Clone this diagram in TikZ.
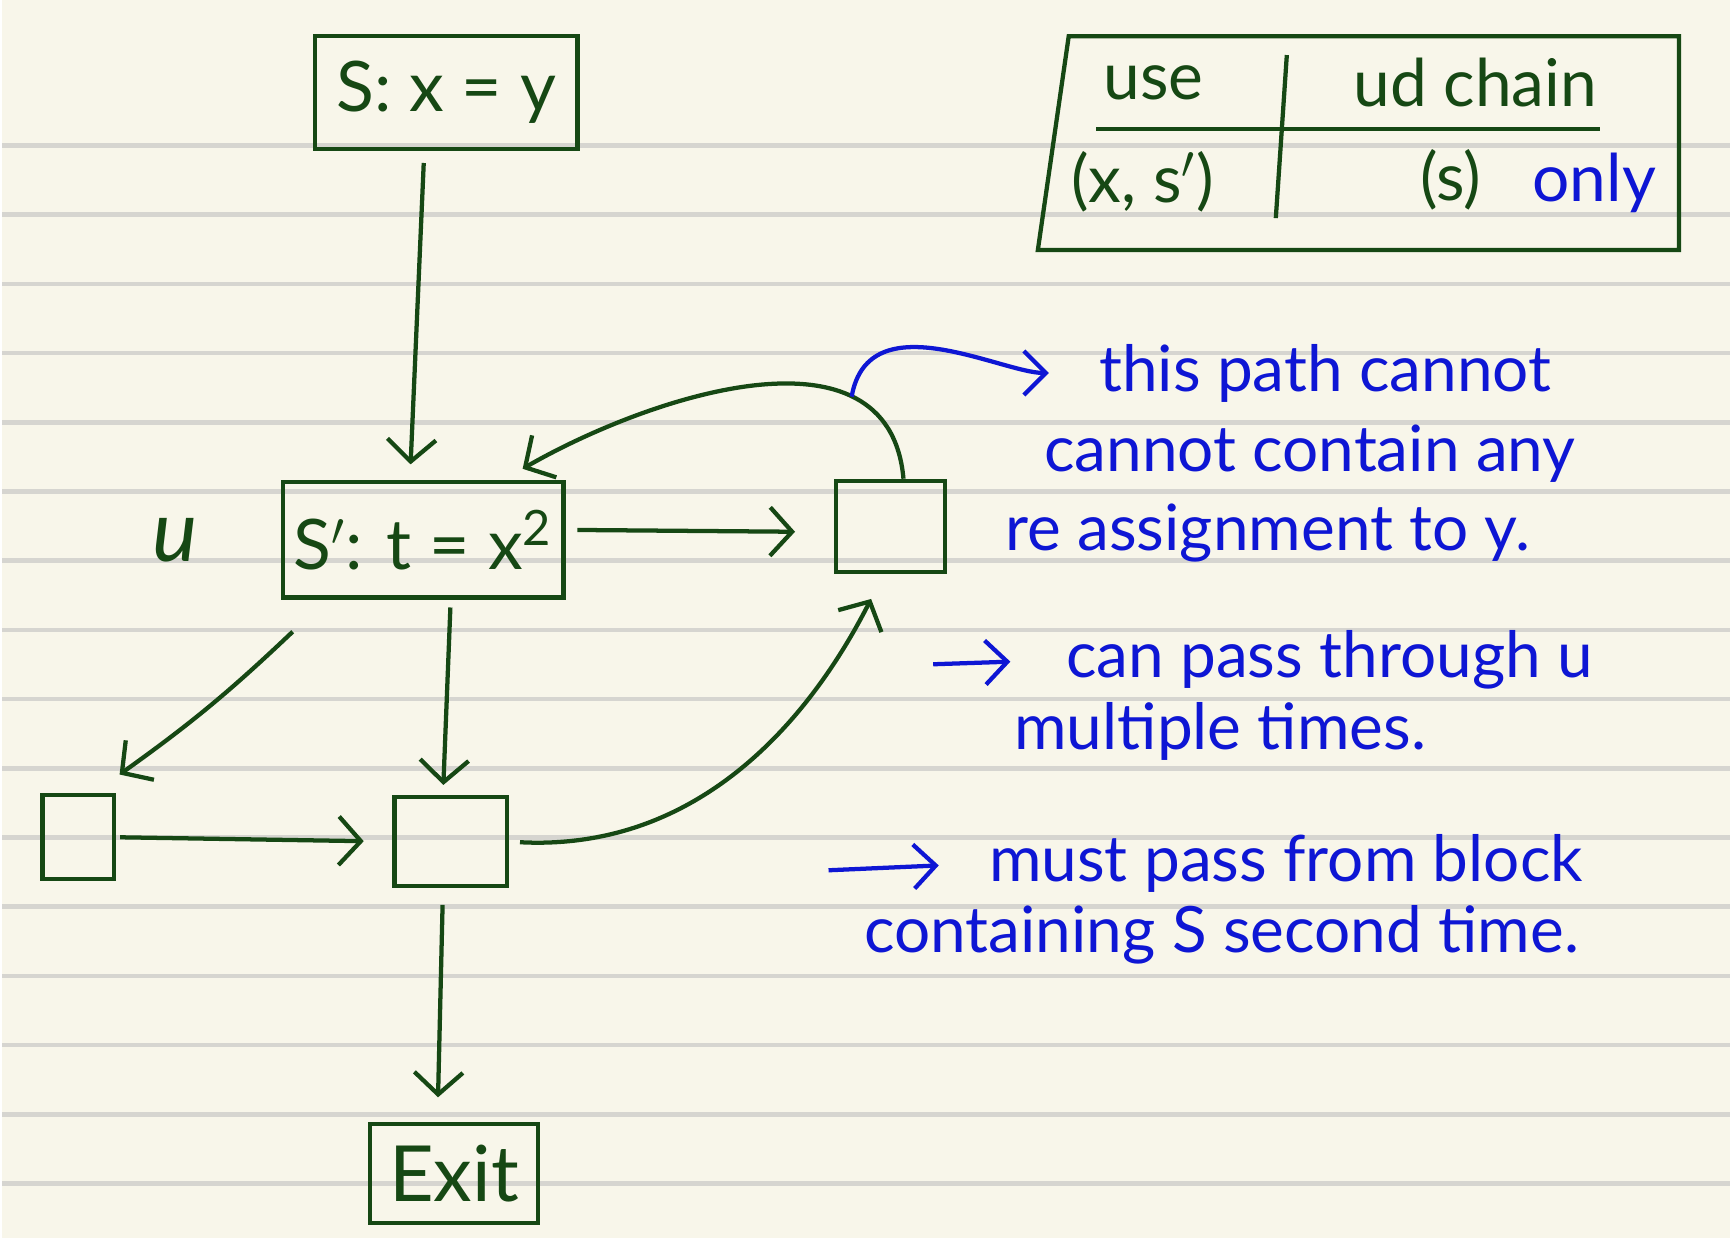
\documentclass[tikz,border=0pt]{standalone}
\usepackage{fontspec}
\setmainfont{Lato}
\usetikzlibrary{positioning, arrows.meta}
\definecolor{PaperCream}{RGB}{248,246,234}
\definecolor{RuleGrey}{RGB}{214,213,208}
\definecolor{InkGreen}{RGB}{22,72,20}
\definecolor{InkBlue}{RGB}{14,22,212}
\tikzset{
  block/.style={draw=InkGreen, line width=1.1pt, inner sep=2pt, text=InkGreen,
    font=\fontsize{18}{22}\selectfont},
  cell/.style={text=InkGreen, inner sep=1pt, font=\fontsize{17}{20}\selectfont},
  note/.style={text=InkBlue, anchor=base west, inner sep=0pt, font=\fontsize{16.5}{20}\selectfont},
  frame/.style={draw=InkGreen, line width=1.1pt},
  flow/.style={-{Straight Barb[length=2mm, width=4.4mm]}, draw=InkGreen, line width=1.1pt},
  notearrow/.style={-{Straight Barb[length=2mm, width=4mm]}, draw=InkBlue, line width=1.1pt},
  ruling/.style={draw=RuleGrey, line width=1.2pt},
}

\begin{document}
\begin{tikzpicture}
  \fill[PaperCream] (0,0) rectangle (15.68,-11.24);
  \foreach \k in {0,...,15}
    \draw[ruling] (0,{-1.322-0.628*\k}) -- (15.68,{-1.322-0.628*\k});
  \useasboundingbox (0,0) rectangle (15.68,-11.24);

  \node[block, minimum width=2.38cm, minimum height=1.03cm] (s) at (4.03,-0.84) {S: x = y};
  \node[block, minimum width=2.55cm, minimum height=1.05cm] (s2) at (3.82,-4.90) {S$'$: t = x\textsuperscript{2}};
  \node[cell, font=\fontsize{22}{26}\selectfont\itshape] (ulabel) at (1.57,-4.90) {u};
  \node[block, minimum width=0.99cm, minimum height=0.83cm] (b3) at (8.06,-4.78) {};
  \node[block, minimum width=0.65cm, minimum height=0.76cm] (b1) at (0.69,-7.60) {};
  \node[block, minimum width=1.02cm, minimum height=0.81cm] (b2) at (4.07,-7.64) {};
  \node[block, minimum width=1.52cm, minimum height=0.90cm, font=\fontsize{20}{24}\selectfont] (exit) at (4.10,-10.65) {Exit};

  \draw[frame] (9.68,-0.33) -- (15.22,-0.33) -- (15.22,-2.27) -- (9.40,-2.27) -- cycle;
  \draw[frame] (9.93,-1.17) -- (14.50,-1.17);
  \draw[frame] (11.66,-0.50) -- (11.56,-1.98);
  \node[cell] (usehead) at (10.45,-0.75) {use};
  \node[cell] (chainhead) at (13.37,-0.75) {ud chain};
  \node[cell] (usepair) at (10.35,-1.65) {(x, s$'$)};
  \node[cell] (defset) at (13.15,-1.63) {(s)};
  \node[cell, text=InkBlue] (only) at (14.45,-1.66) {only};

  \node[note] (note1) at (9.95,-3.55) {this path cannot};
  \node[note] (note2) at (9.45,-4.28) {cannot contain any};
  \node[note] (note3) at (9.10,-5.00) {re assignment to y.};
  \node[note] (note4) at (9.65,-6.15) {can pass through u};
  \node[note] (note5) at (9.18,-6.80) {multiple times.};
  \node[note] (note6) at (8.95,-8.00) {must pass from block};
  \node[note] (note7) at (7.82,-8.65) {containing S second time.};

  \draw[flow, shorten <=3pt, shorten >=4pt] ([xshift=-0.2cm]s.south) -- ([xshift=-0.12cm]s2.north);
  \draw[flow, shorten <=3pt, shorten >=0.35cm] ([yshift=0.09cm]s2.east) -- ([yshift=-0.05cm]b3.west);
  \draw[flow] ([xshift=0.11cm, yshift=-0.29cm]s2.south west) to[bend left=4] ([xshift=0.03cm, yshift=0.17cm]b1.north east);
  \draw[flow, shorten <=2pt, shorten >=0.09cm] ([xshift=0.25cm]s2.south) -- ([xshift=-0.07cm]b2.north);
  \draw[flow, shorten <=1pt, shorten >=0.26cm] (b1.east) -- (b2.west);
  \draw[flow, shorten <=0.1cm, shorten >=0.25cm] (b2.east) to[out=-3, in=243] ([xshift=-0.06cm]b3.south);
  \draw[flow, shorten <=0.15cm, shorten >=0.22cm] ([xshift=-0.07cm]b2.south) -- ([xshift=-0.15cm]exit.north);
  \draw[flow, shorten >=0.2cm] ([xshift=0.12cm]b3.north) to[out=95, in=30, looseness=1.05]
    coordinate[pos=0.26] (loopmark) ([xshift=0.73cm]s2.north);

  \coordinate (passmark) at (8.45,-6.03);
  \coordinate (blockmark) at (7.50,-7.90);
  \draw[notearrow, shorten >=0.45cm] (loopmark) to[out=80, in=180] (note1.west);
  \draw[notearrow, shorten >=0.5cm] (passmark) -- (note4.west);
  \draw[notearrow, shorten >=0.45cm] (blockmark) -- (note6.west);
\end{tikzpicture}
\end{document}
